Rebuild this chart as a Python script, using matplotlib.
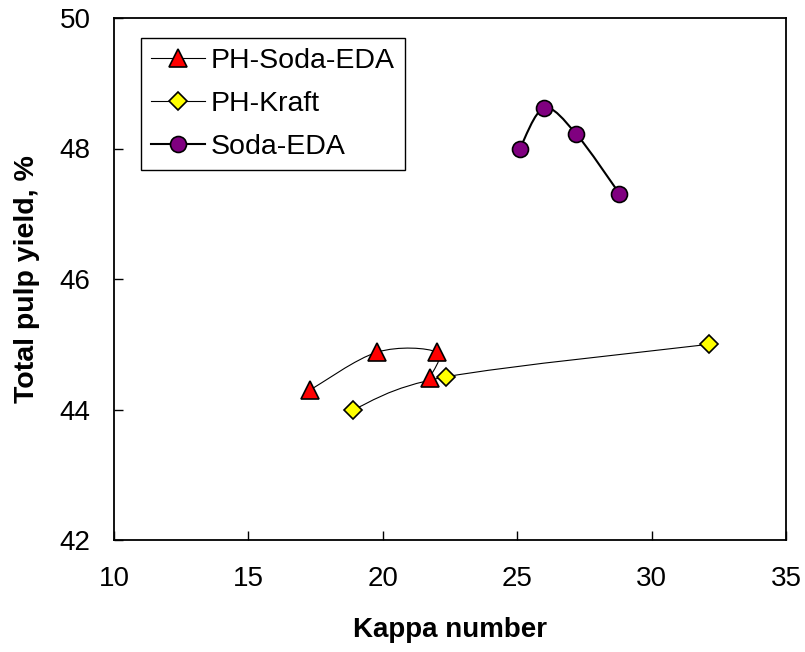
import numpy as np
import matplotlib
matplotlib.use("Agg")
import matplotlib.pyplot as plt
from matplotlib.path import Path
from matplotlib.patches import PathPatch

plt.rcParams['font.family'] = ['Liberation Sans', 'DejaVu Sans']

# data
soda_pre_kappa = [17.3, 19.8, 22.0, 21.75]
soda_pre_yield = [44.3, 44.88, 44.88, 44.49]
kraft_kappa = [18.9, 22.35, 32.15]
kraft_yield = [44.0, 44.5, 45.0]
soda_kappa = [25.1, 26.0, 27.2, 28.8]
soda_yield = [48.0, 48.62, 48.22, 47.31]

xticks = [10, 15, 20, 25, 30, 35]
yticks = [42, 44, 46, 48, 50]


def smooth_line(ax, xs, ys, lw):
    # excel style smoothed line: bezier through points, built in screen space
    pts = ax.transData.transform(np.column_stack([xs, ys]))
    n = len(pts)
    verts = [pts[0]]
    codes = [Path.MOVETO]
    for i in range(n - 1):
        p0 = pts[i - 1] if i > 0 else pts[i]
        p1 = pts[i]
        p2 = pts[i + 1]
        p3 = pts[i + 2] if i + 2 < n else pts[i + 1]
        c1 = p1 + (p2 - p0) / 6.0
        c2 = p2 - (p3 - p1) / 6.0
        verts += [c1, c2, p2]
        codes += [Path.CURVE4] * 3
    verts = ax.transData.inverted().transform(np.array(verts))
    ax.add_patch(PathPatch(Path(verts, codes), fill=False, edgecolor='black',
                           lw=lw, zorder=2))


fig = plt.figure(figsize=(8.05, 6.52), dpi=100)
ax = fig.add_axes([114 / 805, 1 - 540 / 652, 672 / 805, 522 / 652])
ax.set_xlim(10, 35)
ax.set_ylim(42, 50)

smooth_line(ax, soda_pre_kappa, soda_pre_yield, 0.8)
smooth_line(ax, kraft_kappa, kraft_yield, 0.8)
smooth_line(ax, soda_kappa, soda_yield, 1.5)

ax.plot(soda_pre_kappa, soda_pre_yield, ls='none', marker='^', ms=13,
        mfc='red', mec='black', mew=1.2, zorder=3)
ax.plot(kraft_kappa, kraft_yield, ls='none', marker='D', ms=9,
        mfc='yellow', mec='black', mew=1.2, zorder=3)
ax.plot(soda_kappa, soda_yield, ls='none', marker='o', ms=11.5,
        mfc='purple', mec='black', mew=1.2, zorder=3)

# legend handles (line + marker)
h1, = ax.plot([], [], color='black', lw=0.8, marker='^', ms=13, mfc='red', mec='black', mew=1.2)
h2, = ax.plot([], [], color='black', lw=0.8, marker='D', ms=9, mfc='yellow', mec='black', mew=1.2)
h3, = ax.plot([], [], color='black', lw=1.5, marker='o', ms=11.5, mfc='purple', mec='black', mew=1.2)
leg = ax.legend([h1, h2, h3], ['PH-Soda-EDA', 'PH-Kraft', 'Soda-EDA'],
                loc='upper left', bbox_to_anchor=(0.040, 0.962), borderaxespad=0,
                fontsize=20.5, handlelength=1.9, handletextpad=0.2,
                labelspacing=0.6, borderpad=0.35, fancybox=False,
                framealpha=1, edgecolor='black')
leg.get_frame().set_linewidth(1.0)

ax.set_xticks(xticks)
ax.set_yticks(yticks)
ax.tick_params(direction='in', length=6.5, width=1, labelsize=20)
ax.tick_params(axis='x', pad=19)
ax.tick_params(axis='y', pad=17)
for s in ax.spines.values():
    s.set_linewidth(1.3)

ax.set_xlabel('Kappa number', fontsize=20, fontweight='bold')
ax.set_ylabel('Total pulp yield, %', fontsize=20.5, fontweight='bold')
ax.xaxis.set_label_coords(0.5, (540 - 617) / 522)
ax.yaxis.set_label_coords((40 - 114) / 672, 0.5)

fig.savefig('out.png', dpi=100)
